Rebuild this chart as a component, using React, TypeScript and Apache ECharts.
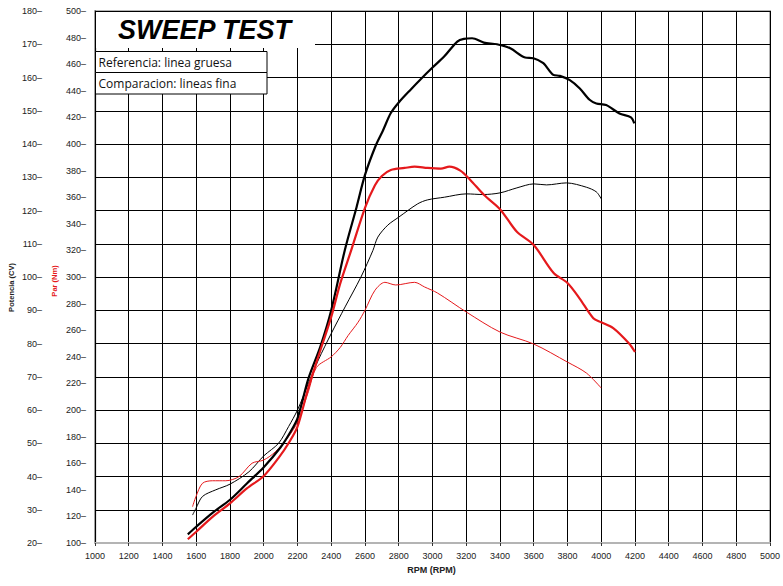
import React, { useEffect, useRef } from "react";
import * as echarts from "echarts";

// Reference run (thick lines)
const refPowerRpm = [1550, 1600, 1700, 1800, 1900, 2000, 2100, 2150, 2200, 2265, 2335, 2400, 2480, 2550, 2600, 2665, 2706, 2753, 2800, 2873, 2930, 3000, 3069, 3147, 3186, 3235, 3304, 3382, 3461, 3549, 3598, 3657, 3716, 3755, 3814, 3873, 3931, 3971, 4029, 4108, 4176, 4196];
const refPowerCv = [22.6, 24.9, 29.2, 33, 37.9, 42.8, 48.8, 52.7, 57.5, 69.5, 79, 90, 108, 121, 130.7, 139.7, 144, 149.3, 152.5, 156.5, 159.5, 163, 166.3, 170.8, 171.6, 171.8, 170.5, 170, 168.8, 166, 165.8, 164.3, 160.8, 160.5, 159.2, 156.7, 153.3, 152.2, 151.7, 149.2, 148, 146.2];

const refTorqueRpm = [1550, 1600, 1700, 1800, 1900, 2000, 2088, 2147, 2200, 2265, 2341, 2400, 2453, 2518, 2600, 2659, 2700, 2753, 2835, 2894, 2971, 3050, 3100, 3165, 3224, 3306, 3400, 3500, 3600, 3718, 3800, 3871, 3953, 4000, 4071, 4165, 4200];
const refTorqueNm = [102.8, 108.5, 120, 129.8, 141, 150.4, 164, 175, 187.5, 217, 247, 270, 295, 320, 352, 369, 376, 380.5, 382, 383, 382, 381.5, 383, 380, 373, 361.6, 351, 334, 324, 303, 295.5, 284, 269, 266, 261.6, 250, 243.6];

// Comparison run (thin lines)
const cmpPowerRpm = [1578, 1598, 1637, 1716, 1800, 1912, 2000, 2088, 2147, 2200, 2265, 2323, 2400, 2482, 2576, 2647, 2676, 2735, 2800, 2912, 2971, 3071, 3200, 3300, 3400, 3500, 3600, 3676, 3794, 3912, 3971, 4000];
const cmpPowerCv = [28.4, 30.4, 34, 36, 37.7, 41.4, 46.2, 50, 55, 60, 68, 75, 83, 91, 100, 108, 112, 115.6, 118, 122, 123.2, 124, 125, 124.8, 125.3, 126.8, 128, 127.7, 128.3, 127, 125.6, 123.5];

const cmpTorqueRpm = [1578, 1598, 1637, 1696, 1775, 1853, 1931, 2000, 2069, 2147, 2200, 2265, 2312, 2400, 2453, 2500, 2559, 2600, 2659, 2718, 2782, 2894, 2953, 3029, 3200, 3400, 3600, 3800, 3912, 4000];
const cmpTorqueNm = [127.3, 134.8, 144.9, 146.8, 146.8, 149.9, 160, 162.4, 168.6, 180, 191, 214, 232, 240, 247, 256, 266, 275, 290, 296, 294, 296, 292.5, 288, 273.7, 258.6, 249.6, 236, 227.8, 216.5];

const TITLE = "SWEEP TEST";
const LEGEND_REF = "Referencia: linea gruesa";
const LEGEND_CMP = "Comparacion: lineas fina";
const X_NAME = "RPM (RPM)";
const Y_POWER_NAME = "Potencia (CV)";
const Y_TORQUE_NAME = "Par (Nm)";

const RED = "#e5191c";
const BLACK = "#000000";

const zip = (xs: number[], ys: number[]) => xs.map((x, i) => [x, ys[i]]);

export default function App() {
  const ref = useRef<HTMLDivElement>(null);
  useEffect(() => {
    if (!ref.current) return;
    const chart = echarts.init(ref.current, undefined, { renderer: "svg" });
    const labelFont = { color: "#222", fontSize: 9, fontFamily: "'Liberation Sans', Arial, sans-serif" };
    const lineCommon = { type: "line", showSymbol: false, smooth: 0.3 };
    const option = {
      animation: false,
      backgroundColor: "#ffffff",
      grid: {
        left: 95, right: 8, top: 11, bottom: 43,
        show: true, borderColor: "#b4b4b4", borderWidth: 2, backgroundColor: "transparent",
      },
      xAxis: {
        type: "value", min: 1000, max: 5000, interval: 200,
        axisLine: { show: true, onZero: false, lineStyle: { color: "#b4b4b4", width: 2 } },
        axisTick: { show: true, length: 3, lineStyle: { color: "#333" } },
        axisLabel: { ...labelFont, margin: 8, formatter: (v: number) => String(v) },
        splitLine: { show: true, lineStyle: { color: "#000", width: 1 } },
      },
      yAxis: [
        {
          type: "value", min: 20, max: 180, interval: 10, position: "left", offset: 45,
          axisLine: { show: false }, axisTick: { show: false },
          axisLabel: { ...labelFont, margin: 8, formatter: (v: number) => v + "–" },
          splitLine: { show: true, lineStyle: { color: "#000", width: 1 } },
        },
        {
          type: "value", min: 100, max: 500, interval: 20, position: "left", offset: 0,
          axisLine: { show: true, onZero: false, lineStyle: { color: "#000", width: 1.2 } },
          axisTick: { show: false },
          axisLabel: { ...labelFont, margin: 9, formatter: (v: number) => v + "–" },
          splitLine: { show: false },
        },
      ],
      series: [
        { ...lineCommon, name: "ref power", yAxisIndex: 0, data: zip(refPowerRpm, refPowerCv), lineStyle: { color: BLACK, width: 2.2 }, z: 5 },
        { ...lineCommon, name: "ref torque", yAxisIndex: 1, data: zip(refTorqueRpm, refTorqueNm), lineStyle: { color: RED, width: 2.2 }, z: 5 },
        { ...lineCommon, name: "cmp power", yAxisIndex: 0, data: zip(cmpPowerRpm, cmpPowerCv), lineStyle: { color: BLACK, width: 1 }, z: 4 },
        { ...lineCommon, name: "cmp torque", yAxisIndex: 1, data: zip(cmpTorqueRpm, cmpTorqueNm), lineStyle: { color: RED, width: 1 }, z: 4 },
      ],
      graphic: [
        { type: "rect", z: 50, shape: { x: 96, y: 12, width: 219, height: 36 }, style: { fill: "#fff" } },
        { type: "text", z: 51, x: 118, y: 30, style: { text: TITLE, font: "italic bold 27px 'Liberation Sans', Arial, sans-serif", fill: "#000", align: "left", verticalAlign: "middle" } },
        { type: "rect", z: 50, shape: { x: 95.5, y: 51.5, width: 171.5, height: 21 }, style: { fill: "#fff", stroke: "#000", lineWidth: 1 } },
        { type: "rect", z: 50, shape: { x: 95.5, y: 72.5, width: 171.5, height: 21.5 }, style: { fill: "#fff", stroke: "#000", lineWidth: 1 } },
        { type: "text", z: 51, x: 98.5, y: 62, style: { text: LEGEND_REF, font: "12px 'Open Sans', sans-serif", fill: "#111", align: "left", verticalAlign: "middle" } },
        { type: "text", z: 51, x: 98.5, y: 83.5, style: { text: LEGEND_CMP, font: "12px 'Open Sans', sans-serif", fill: "#111", align: "left", verticalAlign: "middle" } },
        { type: "text", z: 51, x: 11, y: 287.5, rotation: Math.PI / 2, style: { text: Y_POWER_NAME, font: "bold 7.5px 'Liberation Sans', Arial, sans-serif", fill: "#222", align: "center", verticalAlign: "middle" } },
        { type: "text", z: 51, x: 54, y: 281, rotation: Math.PI / 2, style: { text: Y_TORQUE_NAME, font: "bold 7.5px 'Liberation Sans', Arial, sans-serif", fill: RED, align: "center", verticalAlign: "middle" } },
        { type: "text", z: 51, x: 431.5, y: 570, style: { text: X_NAME, font: "bold 9px 'Liberation Sans', Arial, sans-serif", fill: "#222", align: "center", verticalAlign: "middle" } },
      ],
    };
    chart.setOption(option as any);
    return () => chart.dispose();
  }, []);
  return <div ref={ref} style={{ position: "fixed", left: 0, top: 0, width: 783, height: 586, background: "#fff" }} />;
}
